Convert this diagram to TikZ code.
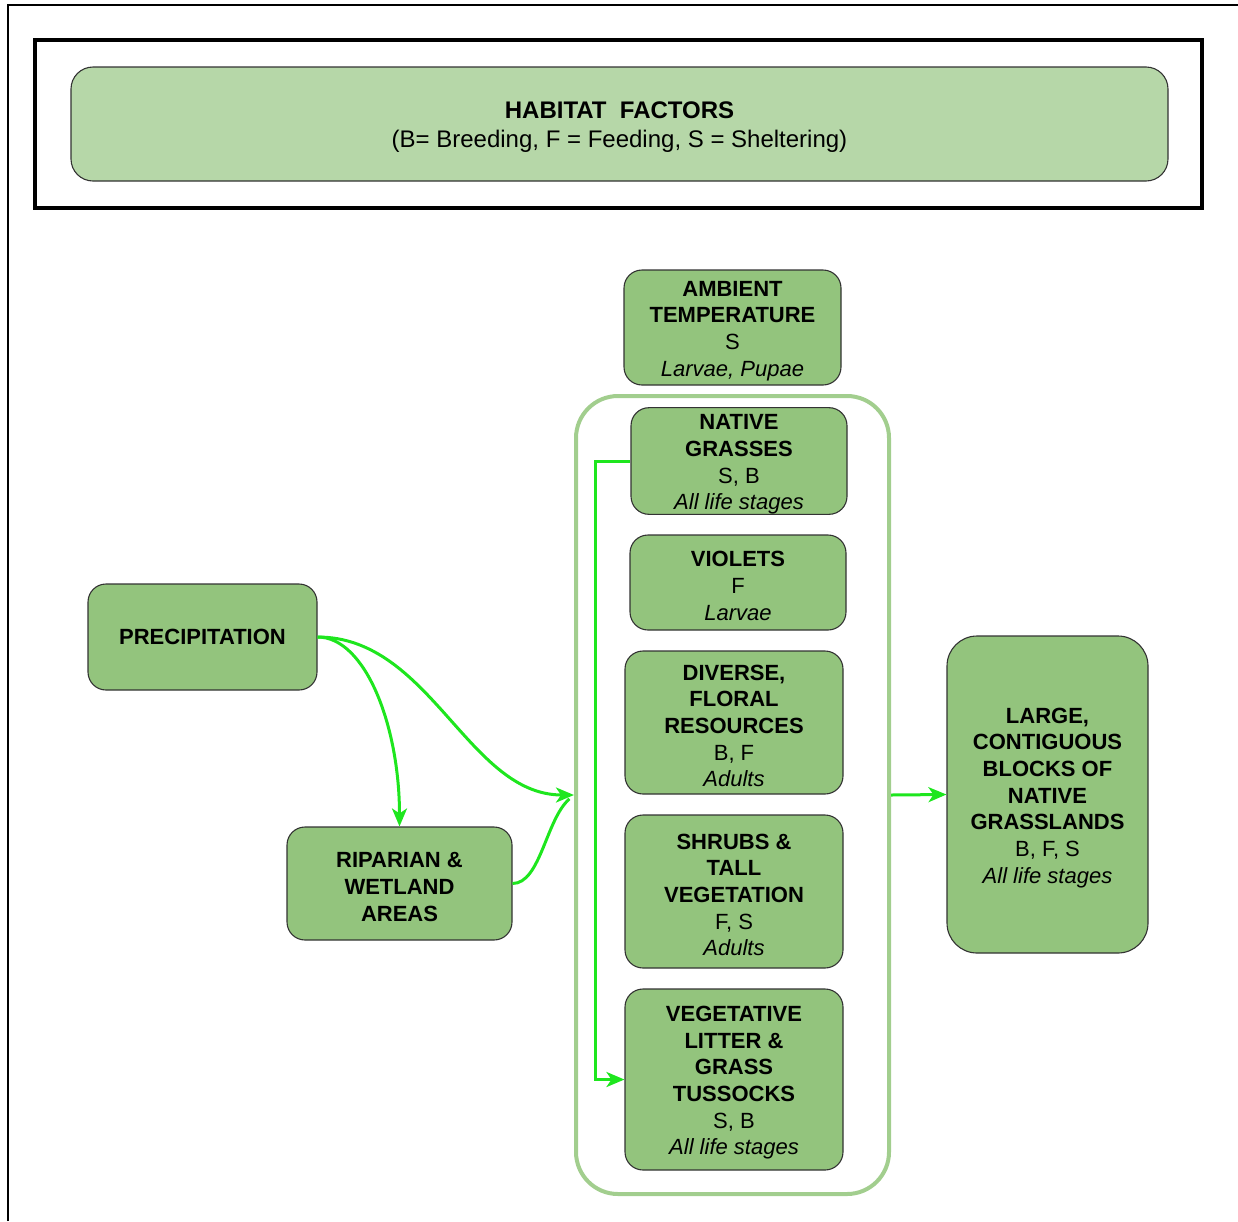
\documentclass[tikz,border=0pt]{standalone}
\usepackage{fontspec}
\setmainfont{Liberation Sans}
\usetikzlibrary{arrows.meta}
\definecolor{boxgreen}{HTML}{93C47D}
\definecolor{titlegreen}{HTML}{B6D7A8}
\definecolor{contgreen}{HTML}{A2CE8E}
\definecolor{arrowgreen}{HTML}{1EE61E}
\definecolor{edgegray}{HTML}{333333}
\newcommand{\tup}{\rule{0pt}{22pt}}
\begin{document}
\begin{tikzpicture}[x=1pt,y=-1pt,
  box/.style={draw=edgegray, fill=boxgreen, line width=1.1pt, rounded corners=18pt,
    inner sep=0pt, align=center, font=\fontsize{22}{26.7}\selectfont},
  flow/.style={draw=arrowgreen, line width=3pt, -{Stealth[length=18pt,width=15pt,inset=5pt]}},
  flowline/.style={draw=arrowgreen, line width=3pt, shorten >=6pt}]
\useasboundingbox (0,0) rectangle (1238,1221);
% outer frame
\draw[line width=2.5pt] (8,1221) -- (8,5) -- (1238,5);
% title frame
\draw[line width=4pt] (35,40) rectangle (1202,208);
\node[draw=edgegray, fill=titlegreen, line width=1.1pt, rounded corners=22pt, inner sep=0pt,
  minimum width=1097pt, minimum height=114pt, align=center,
  font=\fontsize{24}{29}\selectfont] (title) at (619.5,124)
  {\rule{0pt}{23.5pt}\textbf{HABITAT~~FACTORS}\\(B= Breeding, F = Feeding, S = Sheltering)};
% container
\node[draw=contgreen, line width=4pt, rounded corners=42pt, minimum width=313pt,
  minimum height=798pt, inner sep=0pt] (cont) at (732.5,795) {};
% boxes
\node[box, minimum width=217pt, minimum height=115pt] (amb) at (732.5,327.5)
  {\tup\textbf{AMBIENT}\\\textbf{TEMPERATURE}\\S\\\textit{Larvae, Pupae}};
\node[box, minimum width=216pt, minimum height=106pt] (ng) at (739,461)
  {\tup\textbf{NATIVE}\\\textbf{GRASSES}\\S, B\\\textit{All life stages}};
\node[box, minimum width=216pt, minimum height=95pt] (vio) at (738,582.5)
  {\tup\textbf{VIOLETS}\\F\\\textit{Larvae}};
\node[box, minimum width=218pt, minimum height=143pt] (div) at (734,722.5)
  {\tup\textbf{DIVERSE,}\\\textbf{FLORAL}\\\textbf{RESOURCES}\\B, F\\\textit{Adults}};
\node[box, minimum width=218pt, minimum height=153pt] (shr) at (734,891.5)
  {\tup\textbf{SHRUBS \&}\\\textbf{TALL}\\\textbf{VEGETATION}\\F, S\\\textit{Adults}};
\node[box, minimum width=218pt, minimum height=181pt] (veg) at (734,1079.5)
  {\tup\textbf{VEGETATIVE}\\\textbf{LITTER \&}\\\textbf{GRASS}\\\textbf{TUSSOCKS}\\S, B\\\textit{All life stages}};
\node[box, rounded corners=30pt, minimum width=201pt, minimum height=317pt] (large) at (1047.5,794.5)
  {\tup\textbf{LARGE,}\\\textbf{CONTIGUOUS}\\\textbf{BLOCKS OF}\\\textbf{NATIVE}\\\textbf{GRASSLANDS}\\B, F, S\\\textit{All life stages}};
\node[box, minimum width=229pt, minimum height=106pt] (prec) at (202.5,637)
  {\textbf{PRECIPITATION}};
\node[box, minimum width=225pt, minimum height=113pt] (rip) at (399.5,883.5)
  {\tup\textbf{RIPARIAN \&}\\\textbf{WETLAND}\\\textbf{AREAS}};
% connectors
\draw[flow] (prec.east) .. controls +(48,0) and +(0,-100) .. (rip.north);
\draw[flowline] (rip.east) .. controls +(28,0) and +(-28,24) .. (cont.west);
\draw[flow] (prec.east) .. controls +(113,0) and +(-106,0) .. (cont.west);
\draw[flow] (ng.west) -- ++(-35,0) |- (veg.west);
\draw[flow] (cont.east) -- (large.west);
\end{tikzpicture}
\end{document}
